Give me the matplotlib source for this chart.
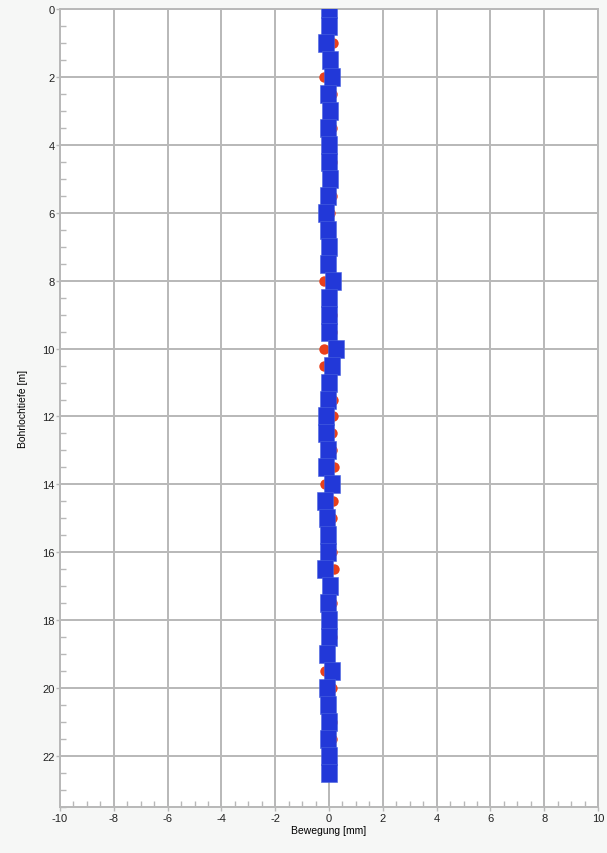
import numpy as np
import matplotlib
matplotlib.use("Agg")
import matplotlib.pyplot as plt
from matplotlib.ticker import MultipleLocator

plt.rcParams["axes.unicode_minus"] = False

# depth [m] and movement [mm] for the two series
depth = np.arange(0, 22.51, 0.5)
move_a = [0.0, 0.05, 0.15, 0.05, -0.2, 0.1, 0.0, 0.1, 0.05, 0.1,
          0.0, 0.1, 0.05, 0.05, 0.0, 0.05, -0.2, 0.05, 0.1, 0.1,
          -0.2, -0.2, 0.05, 0.15, 0.15, 0.1, 0.1, 0.2, -0.15, 0.15,
          0.1, 0.05, 0.1, 0.2, 0.1, 0.1, 0.0, 0.1, -0.15, -0.15,
          0.1, 0.0, 0.1, 0.1, 0.05, 0.0]
move_b = [0.0, 0.0, -0.1, 0.05, 0.1, -0.05, 0.05, -0.05, 0.0, 0.0,
          0.05, -0.05, -0.1, -0.05, 0.0, -0.05, 0.15, 0.0, 0.0, 0.0,
          0.25, 0.1, 0.0, -0.05, -0.1, -0.1, -0.05, -0.1, 0.1, -0.15,
          -0.07, -0.05, -0.05, -0.15, 0.05, -0.05, 0.0, 0.0, -0.07, 0.1,
          -0.07, -0.05, 0.0, -0.05, 0.0, 0.0]

x_ticks = np.arange(-10, 11, 2)
y_ticks = np.arange(0, 23, 2)

grey = "#b8b8b8"
rect = [(-16, -17), (16, -17), (16, 17), (-16, 17), (-16, -17)]

fig = plt.figure(figsize=(6.07, 8.54), dpi=100, facecolor="#f6f7f6")
ax = fig.add_axes([60/607, 46/854, 538/607, 798/854])
ax.set_facecolor("white")

ax.plot(move_a, depth, linestyle="none", marker="o", markersize=7.5,
        color="#e8401c", markeredgewidth=0, zorder=3)
ax.plot(move_b, depth, linestyle="none", marker=rect, markersize=12.4,
        color="#2238d8", markeredgecolor="#4a64e0", markeredgewidth=0.4, zorder=4)

ax.set_xlim(-10, 10)
ax.set_ylim(23.5, 0)
ax.set_xticks(x_ticks)
ax.set_yticks(y_ticks)
ax.xaxis.set_minor_locator(MultipleLocator(0.5))
ax.yaxis.set_minor_locator(MultipleLocator(0.5))
ax.grid(True, which="major", color=grey, linewidth=1.4, zorder=1)
ax.set_axisbelow(True)
for s in ax.spines.values():
    s.set_color(grey)
    s.set_linewidth(1.4)

ax.tick_params(which="major", direction="out", length=3, color=grey, width=1,
               labelsize=8, labelcolor="#222222", pad=1)
ax.tick_params(which="minor", direction="in", length=4, color=grey, width=1)

ax.set_xlabel("Bewegung [mm]", fontsize=7.5, family="Liberation Sans", labelpad=2)
ax.set_ylabel("Bohrlochtiefe [m]", fontsize=7.5, family="Liberation Sans", labelpad=10)
for lab in ax.get_xticklabels() + ax.get_yticklabels():
    lab.set_family("Liberation Sans")

fig.savefig("out.png", dpi=100, facecolor=fig.get_facecolor())
